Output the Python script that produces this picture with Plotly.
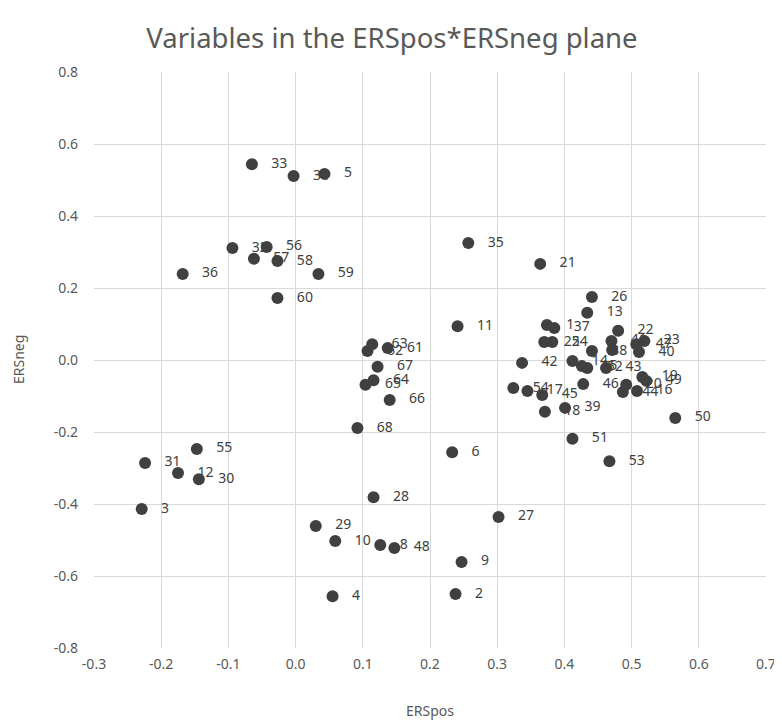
import plotly.graph_objects as go

labels = [str(i) for i in range(1, 69)]

ers_pos = [
    0.374, 0.238, -0.229, 0.055, 0.043, 0.233, 0.471, 0.126, 0.247, 0.059,
    0.241, -0.175, 0.434, 0.412, 0.426, 0.508, 0.345, 0.371, 0.516, 0.492,
    0.364, 0.480, 0.519, 0.382, 0.370, 0.441, 0.302, 0.116, 0.030, -0.144,
    -0.224, -0.094, -0.065, -0.003, 0.257, -0.168, 0.385, 0.441, 0.401, 0.511,
    0.470, 0.337, 0.462, 0.487, 0.367, 0.428, 0.507, 0.147, 0.522, 0.565,
    0.412, 0.434, 0.467, 0.324, -0.147, -0.043, -0.062, -0.027, 0.034, -0.027,
    0.137, 0.107, 0.114, 0.116, 0.104, 0.140, 0.122, 0.092,
]

ers_neg = [
    0.097, -0.650, -0.414, -0.656, 0.517, -0.256, 0.028, -0.514, -0.561, -0.503,
    0.094, -0.314, 0.131, -0.003, -0.017, -0.086, -0.086, -0.144, -0.047, -0.069,
    0.267, 0.081, 0.053, 0.050, 0.050, 0.175, -0.436, -0.381, -0.461, -0.331,
    -0.286, 0.311, 0.544, 0.511, 0.325, 0.239, 0.089, 0.025, -0.133, 0.022,
    0.053, -0.008, -0.022, -0.089, -0.097, -0.067, 0.044, -0.522, -0.058, -0.161,
    -0.219, -0.022, -0.281, -0.078, -0.247, 0.314, 0.281, 0.275, 0.239, 0.172,
    0.033, 0.025, 0.044, -0.056, -0.069, -0.111, -0.019, -0.189,
]

x_ticks = [-0.3, -0.2, -0.1, 0.0, 0.1, 0.2, 0.3, 0.4, 0.5, 0.6, 0.7]
x_tick_text = ["-0.3", "-0.2", "-0.1", "0.0", "0.1", "0.2", "0.3", "0.4", "0.5", "0.6", "0.7"]
y_ticks = [-0.8, -0.6, -0.4, -0.2, 0.0, 0.2, 0.4, 0.6, 0.8]
y_tick_text = ["-0.8", "-0.6", "-0.4", "-0.2", "0.0", "0.2", "0.4", "0.6", "0.8"]

FONT = "Noto Sans"
GRAY = "#595959"

# The page body has an 8px margin, so the figure is sized/offset to compensate.
W, H = 774, 716
L, T = 86, 64
PW, PH = 672, 576

fig = go.Figure()
fig.add_trace(go.Scatter(
    x=ers_pos, y=ers_neg,
    mode="markers+text",
    text=["   " + t for t in labels],
    textposition="middle right",
    textfont=dict(family=FONT, size=14, color="#404040"),
    marker=dict(color="#404040", size=12),
    hoverinfo="skip",
    cliponaxis=False,
))

fig.update_layout(
    width=W, height=H,
    margin=dict(l=L, r=W - L - PW, t=T, b=H - T - PH, autoexpand=False),
    paper_bgcolor="white", plot_bgcolor="white",
    showlegend=False,
    title=dict(text="Variables in the ERSpos*ERSneg plane", x=384 / W, xanchor="center",
               xref="container", yref="container",
               y=1 - 30 / H, yanchor="middle",
               font=dict(family=FONT, size=27.5, color=GRAY)),
    font=dict(family=FONT, color=GRAY),
    annotations=[
        dict(text="ERSpos", xref="paper", yref="paper", x=0.5, y=-62 / PH,
             xanchor="center", yanchor="middle", showarrow=False,
             font=dict(family=FONT, size=14, color=GRAY)),
        dict(text="ERSneg", xref="paper", yref="paper", x=-(L - 10) / PW, y=0.5,
             xanchor="center", yanchor="middle", showarrow=False, textangle=-90,
             font=dict(family=FONT, size=14, color=GRAY)),
    ],
)
fig.update_xaxes(
    range=[-0.3, 0.7], tickvals=x_ticks, ticktext=x_tick_text, automargin=False,
    showgrid=True, gridcolor="#d9d9d9", gridwidth=1, zeroline=False,
    showline=False, ticks="", ticklen=0, ticklabelstandoff=6,
    tickfont=dict(family=FONT, size=14, color=GRAY),
)
fig.update_yaxes(
    range=[-0.8, 0.8], tickvals=y_ticks, ticktext=y_tick_text, automargin=False,
    showgrid=True, gridcolor="#d9d9d9", gridwidth=1, zeroline=False,
    showline=False, ticks="", ticklen=0, ticklabelstandoff=15,
    tickfont=dict(family=FONT, size=14, color=GRAY),
)

fig.write_html("out.html")
